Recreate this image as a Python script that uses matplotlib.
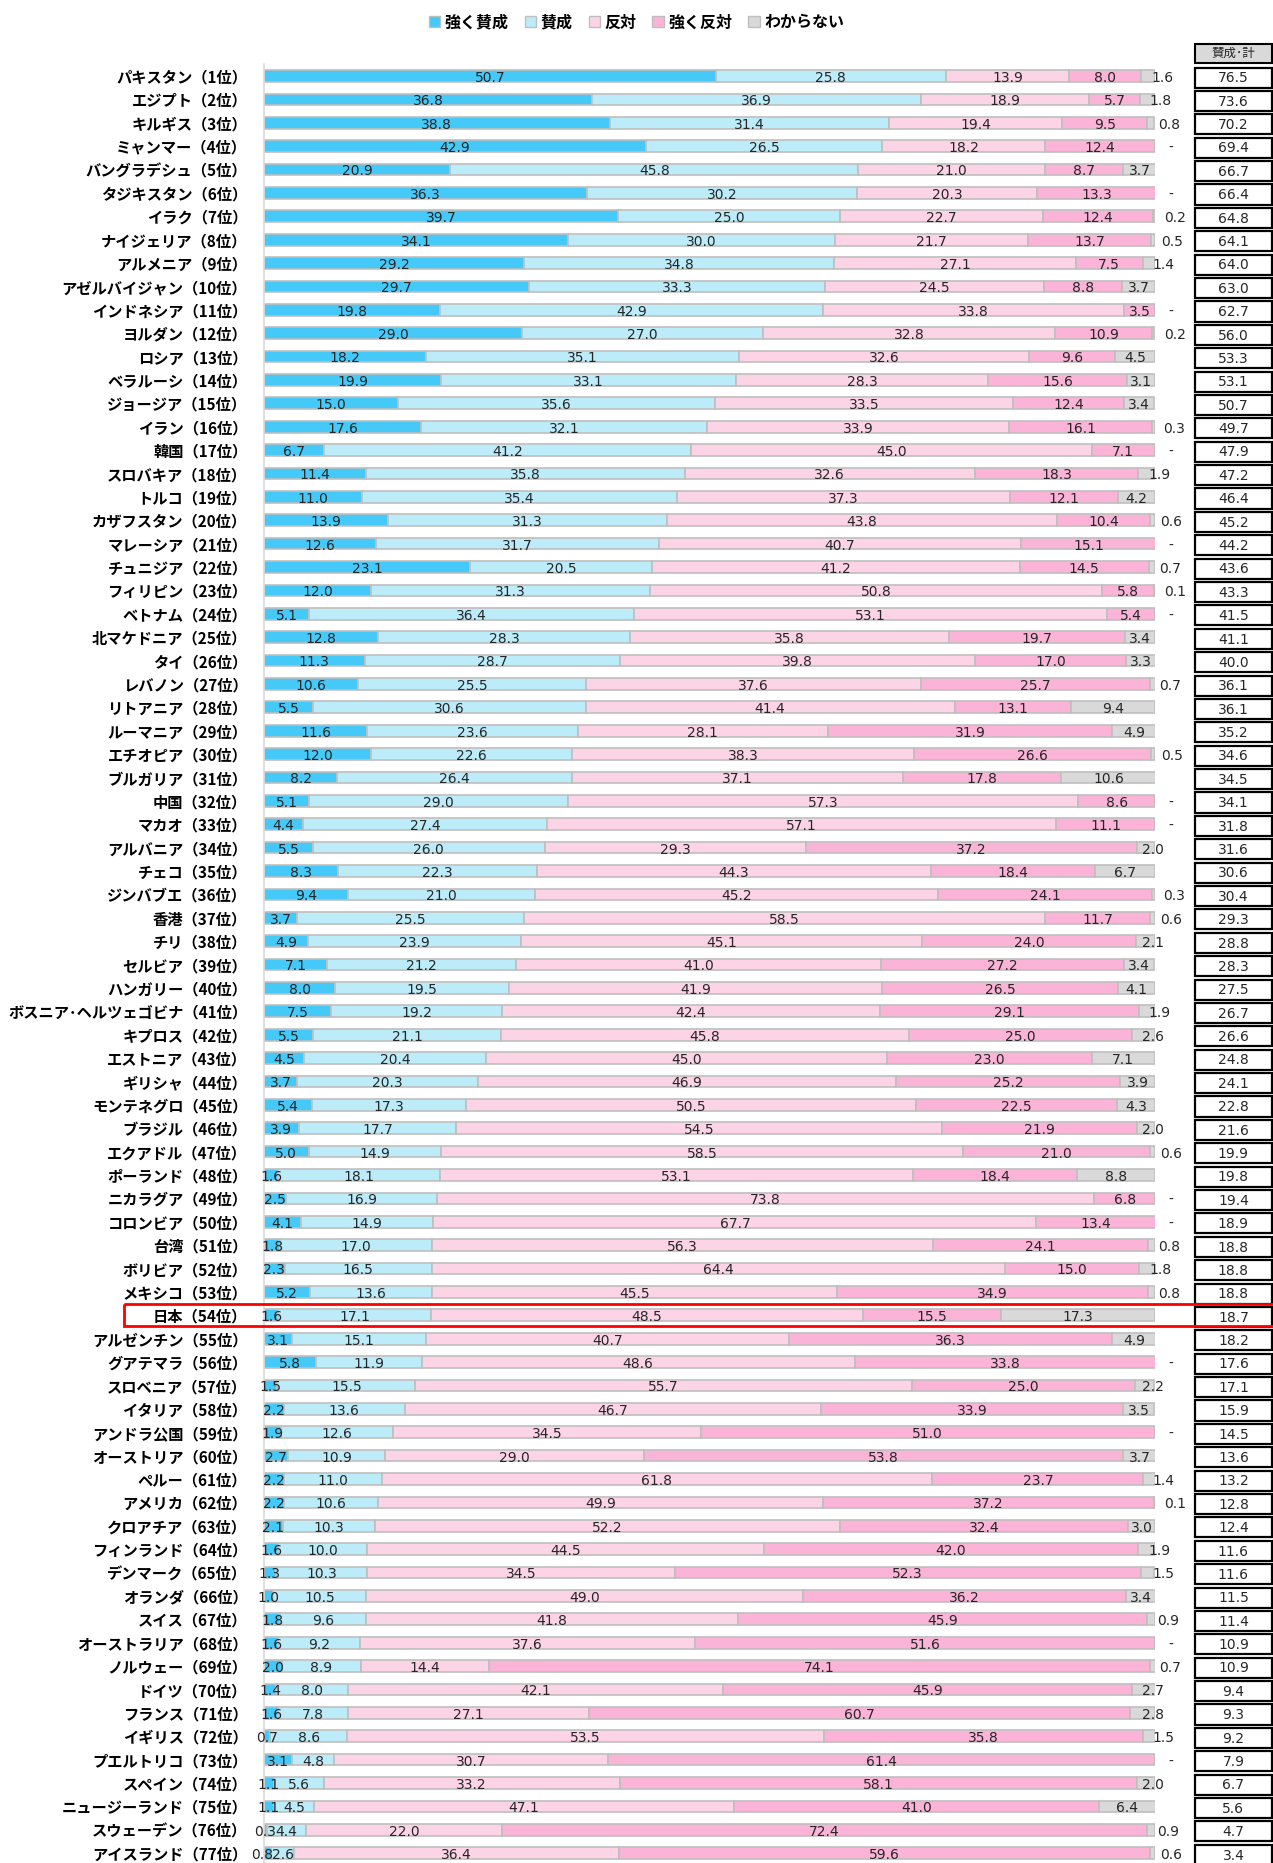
import matplotlib
matplotlib.use('Agg')
import matplotlib.pyplot as plt
from matplotlib.patches import Rectangle, Patch
import numpy as np

# フォント（日本語対応）
plt.rcParams['font.family'] = ['Noto Sans CJK JP', 'DejaVu Sans']

# 国名（順位順）
countries = [
    'パキスタン', 'エジプト', 'キルギス', 'ミャンマー', 'バングラデシュ', 'タジキスタン', 'イラク',
    'ナイジェリア', 'アルメニア', 'アゼルバイジャン', 'インドネシア', 'ヨルダン', 'ロシア', 'ベラルーシ',
    'ジョージア', 'イラン', '韓国', 'スロバキア', 'トルコ', 'カザフスタン', 'マレーシア', 'チュニジア',
    'フィリピン', 'ベトナム', '北マケドニア', 'タイ', 'レバノン', 'リトアニア', 'ルーマニア', 'エチオピア',
    'ブルガリア', '中国', 'マカオ', 'アルバニア', 'チェコ', 'ジンバブエ', '香港', 'チリ', 'セルビア',
    'ハンガリー', 'ボスニア･ヘルツェゴビナ', 'キプロス', 'エストニア', 'ギリシャ', 'モンテネグロ',
    'ブラジル', 'エクアドル', 'ポーランド', 'ニカラグア', 'コロンビア', '台湾', 'ボリビア', 'メキシコ',
    '日本', 'アルゼンチン', 'グアテマラ', 'スロベニア', 'イタリア', 'アンドラ公国', 'オーストリア',
    'ペルー', 'アメリカ', 'クロアチア', 'フィンランド', 'デンマーク', 'オランダ', 'スイス',
    'オーストラリア', 'ノルウェー', 'ドイツ', 'フランス', 'イギリス', 'プエルトリコ', 'スペイン',
    'ニュージーランド', 'スウェーデン', 'アイスランド',
]

strong_agree = [50.7, 36.8, 38.8, 42.9, 20.9, 36.3, 39.7, 34.1, 29.2, 29.7, 19.8, 29.0, 18.2, 19.9,
                15.0, 17.6, 6.7, 11.4, 11.0, 13.9, 12.6, 23.1, 12.0, 5.1, 12.8, 11.3, 10.6, 5.5,
                11.6, 12.0, 8.2, 5.1, 4.4, 5.5, 8.3, 9.4, 3.7, 4.9, 7.1, 8.0, 7.5, 5.5, 4.5, 3.7,
                5.4, 3.9, 5.0, 1.6, 2.5, 4.1, 1.8, 2.3, 5.2, 1.6, 3.1, 5.8, 1.5, 2.2, 1.9, 2.7,
                2.2, 2.2, 2.1, 1.6, 1.3, 1.0, 1.8, 1.6, 2.0, 1.4, 1.6, 0.7, 3.1, 1.1, 1.1, 0.3, 0.8]

agree = [25.8, 36.9, 31.4, 26.5, 45.8, 30.2, 25.0, 30.0, 34.8, 33.3, 42.9, 27.0, 35.1, 33.1,
         35.6, 32.1, 41.2, 35.8, 35.4, 31.3, 31.7, 20.5, 31.3, 36.4, 28.3, 28.7, 25.5, 30.6,
         23.6, 22.6, 26.4, 29.0, 27.4, 26.0, 22.3, 21.0, 25.5, 23.9, 21.2, 19.5, 19.2, 21.1,
         20.4, 20.3, 17.3, 17.7, 14.9, 18.1, 16.9, 14.9, 17.0, 16.5, 13.6, 17.1, 15.1, 11.9,
         15.5, 13.6, 12.6, 10.9, 11.0, 10.6, 10.3, 10.0, 10.3, 10.5, 9.6, 9.2, 8.9, 8.0, 7.8,
         8.6, 4.8, 5.6, 4.5, 4.4, 2.6]

disagree = [13.9, 18.9, 19.4, 18.2, 21.0, 20.3, 22.7, 21.7, 27.1, 24.5, 33.8, 32.8, 32.6, 28.3,
            33.5, 33.9, 45.0, 32.6, 37.3, 43.8, 40.7, 41.2, 50.8, 53.1, 35.8, 39.8, 37.6, 41.4,
            28.1, 38.3, 37.1, 57.3, 57.1, 29.3, 44.3, 45.2, 58.5, 45.1, 41.0, 41.9, 42.4, 45.8,
            45.0, 46.9, 50.5, 54.5, 58.5, 53.1, 73.8, 67.7, 56.3, 64.4, 45.5, 48.5, 40.7, 48.6,
            55.7, 46.7, 34.5, 29.0, 61.8, 49.9, 52.2, 44.5, 34.5, 49.0, 41.8, 37.6, 14.4, 42.1,
            27.1, 53.5, 30.7, 33.2, 47.1, 22.0, 36.4]

strong_disagree = [8.0, 5.7, 9.5, 12.4, 8.7, 13.3, 12.4, 13.7, 7.5, 8.8, 3.5, 10.9, 9.6, 15.6,
                   12.4, 16.1, 7.1, 18.3, 12.1, 10.4, 15.1, 14.5, 5.8, 5.4, 19.7, 17.0, 25.7, 13.1,
                   31.9, 26.6, 17.8, 8.6, 11.1, 37.2, 18.4, 24.1, 11.7, 24.0, 27.2, 26.5, 29.1, 25.0,
                   23.0, 25.2, 22.5, 21.9, 21.0, 18.4, 6.8, 13.4, 24.1, 15.0, 34.9, 15.5, 36.3, 33.8,
                   25.0, 33.9, 51.0, 53.8, 23.7, 37.2, 32.4, 42.0, 52.3, 36.2, 45.9, 51.6, 74.1, 45.9,
                   60.7, 35.8, 61.4, 58.1, 41.0, 72.4, 59.6]

# None は「-」（回答なし）
unknown = [1.6, 1.8, 0.8, None, 3.7, None, 0.2, 0.5, 1.4, 3.7, None, 0.2, 4.5, 3.1,
           3.4, 0.3, None, 1.9, 4.2, 0.6, None, 0.7, 0.1, None, 3.4, 3.3, 0.7, 9.4,
           4.9, 0.5, 10.6, None, None, 2.0, 6.7, 0.3, 0.6, 2.1, 3.4, 4.1, 1.9, 2.6,
           7.1, 3.9, 4.3, 2.0, 0.6, 8.8, None, None, 0.8, 1.8, 0.8, 17.3, 4.9, None,
           2.2, 3.5, None, 3.7, 1.4, 0.1, 3.0, 1.9, 1.5, 3.4, 0.9, None, 0.7, 2.7, 2.8,
           1.5, None, 2.0, 6.4, 0.9, 0.6]

agree_total = [76.5, 73.6, 70.2, 69.4, 66.7, 66.4, 64.8, 64.1, 64.0, 63.0, 62.7, 56.0, 53.3, 53.1,
               50.7, 49.7, 47.9, 47.2, 46.4, 45.2, 44.2, 43.6, 43.3, 41.5, 41.1, 40.0, 36.1, 36.1,
               35.2, 34.6, 34.5, 34.1, 31.8, 31.6, 30.6, 30.4, 29.3, 28.8, 28.3, 27.5, 26.7, 26.6,
               24.8, 24.1, 22.8, 21.6, 19.9, 19.8, 19.4, 18.9, 18.8, 18.8, 18.8, 18.7, 18.2, 17.6,
               17.1, 15.9, 14.5, 13.6, 13.2, 12.8, 12.4, 11.6, 11.6, 11.5, 11.4, 10.9, 10.9, 9.4,
               9.3, 9.2, 7.9, 6.7, 5.6, 4.7, 3.4]

series_names = ['強く賛成', '賛成', '反対', '強く反対', 'わからない']
colors = ['#45C9F8', '#BCEBFA', '#FDD3E6', '#FBB3D7', '#D9D9D9']
highlight = '日本'

labels = ['{}（{}位）'.format(c, i + 1) for i, c in enumerate(countries)]
unk_vals = [0.0 if v is None else v for v in unknown]
series = [strong_agree, agree, disagree, strong_disagree, unk_vals]
y = np.arange(len(countries))

num_font = dict(fontsize=10, color='#262626', family='DejaVu Sans')

fig = plt.figure(figsize=(12.73, 18.63), dpi=100)
ax = fig.add_axes([0.2074, -0.001, 0.6999, 0.9665])

left = np.zeros(len(countries))
for k, (vals, col) in enumerate(zip(series, colors)):
    vals = np.array(vals, dtype=float)
    ax.barh(y, vals, left=left, height=0.5, color=col, edgecolor='#BFBFBF', linewidth=1.2)
    for i, v in enumerate(vals):
        if k < 4:
            xc = left[i] + v / 2
            # 極小値は少し左にずらす
            if k == 0 and v < 1 and agree[i] < 3:
                xc -= 0.6
            ax.text(xc, y[i] + 0.08, '{:.1f}'.format(v), ha='center', va='center', **num_font)
        else:
            # わからない：小さい値はバーの外側に
            if unknown[i] is None:
                ax.text(101.8, y[i] + 0.08, '-', ha='center', va='center', **num_font)
                continue
            if v >= 3:
                xc = left[i] + v / 2
            elif v >= 2:
                xc = 99.8
            else:
                xc = 100.8 + (1.6 - v) * 1.0
            ax.text(xc, y[i] + 0.08, '{:.1f}'.format(v), ha='center', va='center', **num_font)
    left += vals

ax.set_xlim(0, 100)
ax.set_ylim(len(countries) - 0.5, -0.5)
ax.set_xticks([])
ax.set_yticks(y)
ax.set_yticklabels(labels, fontsize=11, fontweight='bold')
ax.tick_params(axis='y', length=0, pad=12)
for s in ['top', 'right', 'bottom']:
    ax.spines[s].set_visible(False)
ax.spines['left'].set_color('#D9D9D9')
ax.spines['left'].set_linewidth(1.2)

# 賛成・計 の表
tx0, tw = 104.5, 8.6
ax.add_patch(Rectangle((tx0, -1.37), tw, 0.81, facecolor='#D9D9D9', edgecolor='black',
                       linewidth=1.5, clip_on=False))
ax.text(tx0 + tw / 2, -0.96, '賛成･計', ha='center', va='center', fontsize=9, color='#262626')
for i, t in enumerate(agree_total):
    ax.add_patch(Rectangle((tx0, y[i] - 0.36), tw, 0.86, facecolor='white', edgecolor='black',
                           linewidth=1.6, clip_on=False))
    ax.text(tx0 + tw / 2, y[i] + 0.1, '{:.1f}'.format(t), ha='center', va='center', **num_font)

# 日本を赤枠で強調
j = countries.index(highlight)
ax.add_patch(Rectangle((-15.7, j - 0.47), 130, 0.94, fill=False, edgecolor='red',
                       linewidth=2, clip_on=False, zorder=5))

# 凡例
handles = [Patch(facecolor=c, edgecolor='#BFBFBF') for c in colors]
fig.legend(handles, series_names, loc='upper center', bbox_to_anchor=(0.5, 1.0), ncol=5,
           frameon=False, prop={'weight': 'bold', 'size': 11.5}, handlelength=0.7,
           handleheight=0.7, handletextpad=0.3, columnspacing=1.0)

fig.savefig('out.png', dpi=100)
